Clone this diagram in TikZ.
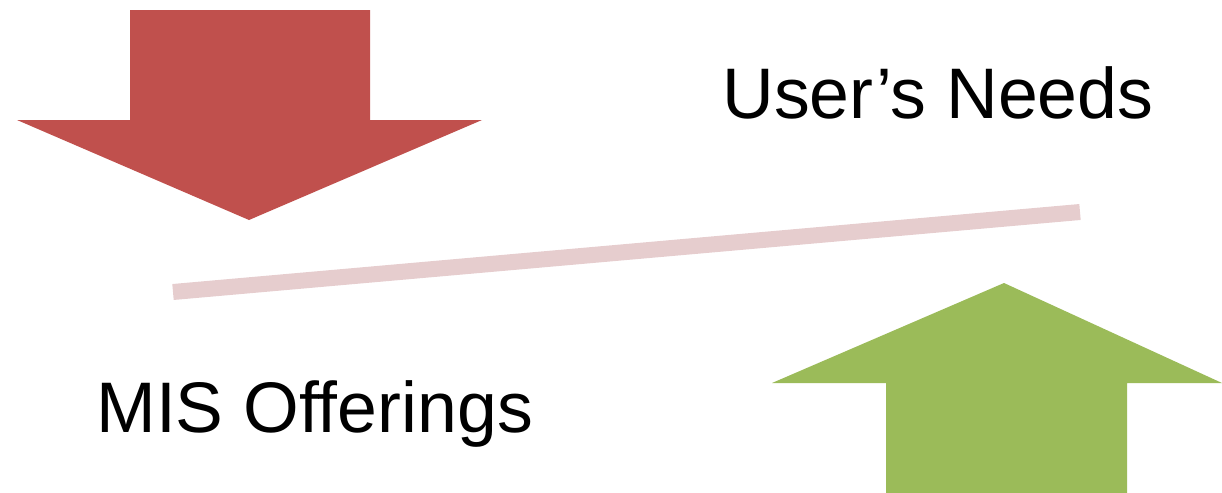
\documentclass[tikz,border=0pt]{standalone}
\usepackage{fontspec}
\setmainfont{Liberation Sans}
\definecolor{redarrow}{HTML}{C0504D}
\definecolor{greenarrow}{HTML}{9BBB59}
\definecolor{pinkline}{HTML}{E6CDCE}
\begin{document}
\begin{tikzpicture}[x=0.5pt,y=-0.5pt,
  label text/.style={font=\fontsize{35.8}{40}\selectfont, inner sep=0pt, anchor=base west}]
\useasboundingbox (0,0) rectangle (1222,493);
\fill[redarrow] (130,10) -- (370,10) -- (370,120) -- (482,120) -- (249,220) -- (17,120) -- (130,120) -- cycle;
\fill[greenarrow] (886,493) -- (1127,493) -- (1127,383) -- (1222,383) -- (1004,283) -- (772,383) -- (886,383) -- cycle;
\coordinate (l1) at (173,292);
\coordinate (l2) at (1080,212);
\draw[pinkline, line width=8pt] (l1) -- (l2);
\node[label text] (needs) at (722,118) {User’s Needs};
\node[label text] (mis) at (96,432) {MIS Offerings};
\end{tikzpicture}
\end{document}
